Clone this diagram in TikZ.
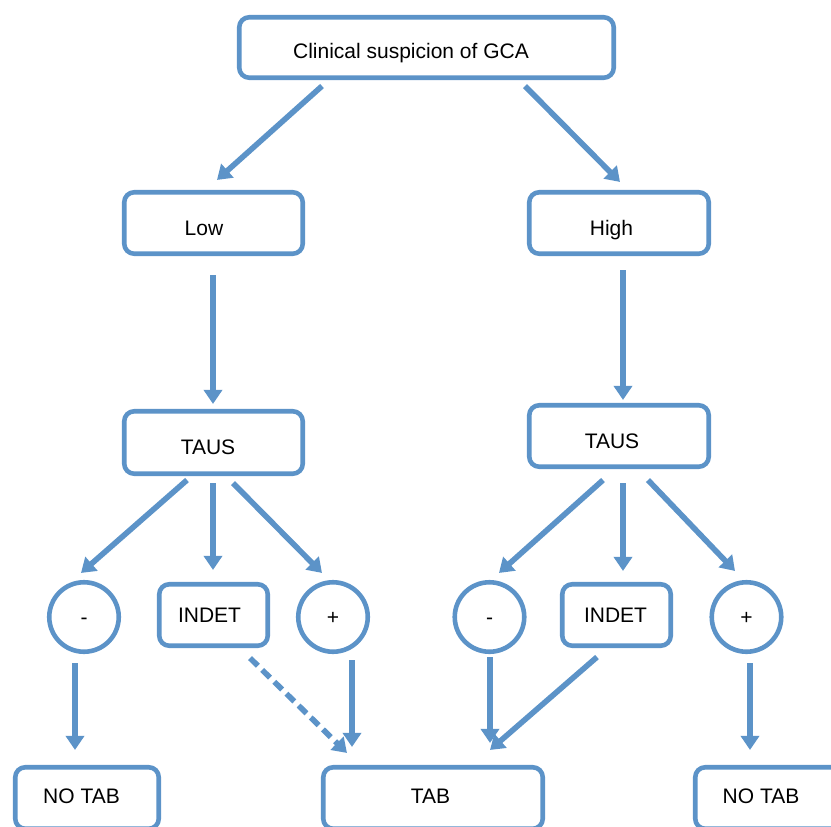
\documentclass[tikz,border=0pt]{standalone}
\usepackage{fontspec}
\setmainfont{Liberation Sans}
\usetikzlibrary{arrows.meta}
\definecolor{fcblue}{RGB}{92,147,200}
\tikzset{
  box/.style={draw=fcblue, line width=4.6pt, rounded corners=10pt, inner sep=0pt, fill=white},
  circ/.style={draw=fcblue, line width=4.6pt, circle, minimum size=69.5pt, inner sep=0pt, fill=white},
  txt/.style={inner sep=0pt, text height=15pt, text depth=0pt, font=\fontsize{21}{25}\selectfont},
  arr/.style={draw=fcblue, line width=5.6pt, -{Triangle[length=14pt,width=18pt]}},
  darr/.style={arr, dash pattern=on 11pt off 6pt}
}
\begin{document}
\begin{tikzpicture}[x=1pt,y=-1pt]
\useasboundingbox (0,0) rectangle (831,827);
% boxes
\node[box, minimum width=374.5pt, minimum height=60.5pt] (clin) at (426.5,47.5) {};
\node[box, minimum width=178.5pt, minimum height=61.5pt] (low) at (213.5,223) {};
\node[box, minimum width=179.5pt, minimum height=61.5pt] (high) at (619,223) {};
\node[box, minimum width=178.5pt, minimum height=62.5pt] (tausL) at (213.5,442.5) {};
\node[box, minimum width=179.5pt, minimum height=61.5pt] (tausR) at (619,436) {};
\node[circ] (minusL) at (84,617) {};
\node[box, minimum width=108.5pt, minimum height=61.5pt] (indetL) at (213.5,615) {};
\node[circ] (plusL) at (333,617) {};
\node[circ] (minusR) at (489.5,617) {};
\node[box, minimum width=108.5pt, minimum height=61.5pt] (indetR) at (616.5,615) {};
\node[circ] (plusR) at (746.5,617) {};
\node[box, minimum width=143.5pt, minimum height=61.5pt] (notabL) at (87,798) {};
\node[box, minimum width=219.5pt, minimum height=61.5pt] (tab) at (433,798) {};
\node[box, minimum width=162.5pt, minimum height=61.5pt] (notabR) at (776.5,798) {};
% texts
\node[txt] (t-clin) at (411,50.5) {Clinical suspicion of GCA};
\node[txt] (t-low) at (204,228) {Low};
\node[txt] (t-high) at (611.5,228) {High};
\node[txt] (t-tausL) at (208,447) {TAUS};
\node[txt] (t-tausR) at (612,441) {TAUS};
\node[txt] (t-minusL) at (84,617) {-};
\node[txt] (t-indetL) at (209.5,615) {INDET};
\node[txt] (t-plusL) at (333,617) {+};
\node[txt] (t-minusR) at (489.5,617) {-};
\node[txt] (t-indetR) at (615.5,615) {INDET};
\node[txt] (t-plusR) at (746.5,617) {+};
\node[txt] (t-notabL) at (81.5,796) {NO TAB};
\node[txt] (t-tab) at (430.5,796) {TAB};
\node[txt] (t-notabR) at (761,796) {NO TAB};
% connectors
\draw[arr] ([shift={(-104.5,6)}]clin.south) -- ([shift={(3.5,-10)}]low.north);
\draw[arr] ([shift={(98.5,6)}]clin.south) -- ([shift={(1,-8)}]high.north);
\draw[arr] ([shift={(-0.5,19)}]low.south) -- ([shift={(-0.5,-5)}]tausL.north);
\draw[arr] ([shift={(4,14)}]high.south) -- ([shift={(4,-3)}]tausR.north);
\draw[arr] ([shift={(-26.5,4)}]tausL.south) -- ([shift={(-3,-7)}]minusL.north);
\draw[arr] ([shift={(-0.5,7)}]tausL.south) -- ([shift={(-0.5,-12)}]indetL.north);
\draw[arr] ([shift={(19.5,7)}]tausL.south) -- ([shift={(-11,-7)}]plusL.north);
\draw[arr] ([shift={(-16,11)}]tausR.south) -- ([shift={(9.5,-7)}]minusR.north);
\draw[arr] ([shift={(4,14)}]tausR.south) -- ([shift={(6.5,-11)}]indetR.north);
\draw[arr] ([shift={(29,11)}]tausR.south) -- ([shift={(-11.5,-9)}]plusR.north);
\draw[arr] ([shift={(-9,9)}]minusL.south) -- ([shift={(-12,-15)}]notabL.north);
\draw[darr] ([shift={(36.5,10)}]indetL.south) -- ([shift={(-86,-12)}]tab.north);
\draw[arr] ([shift={(19,6)}]plusL.south) -- ([shift={(-81,-18)}]tab.north);
\draw[arr] ([shift={(0.5,3)}]minusR.south) -- ([shift={(57,-22)}]tab.north);
\draw[arr] ([shift={(-19.5,9)}]indetR.south) -- ([shift={(57,-15)}]tab.north);
\draw[arr] ([shift={(3.5,9)}]plusR.south) -- ([shift={(-26.5,-15)}]notabR.north);
\end{tikzpicture}
\end{document}
